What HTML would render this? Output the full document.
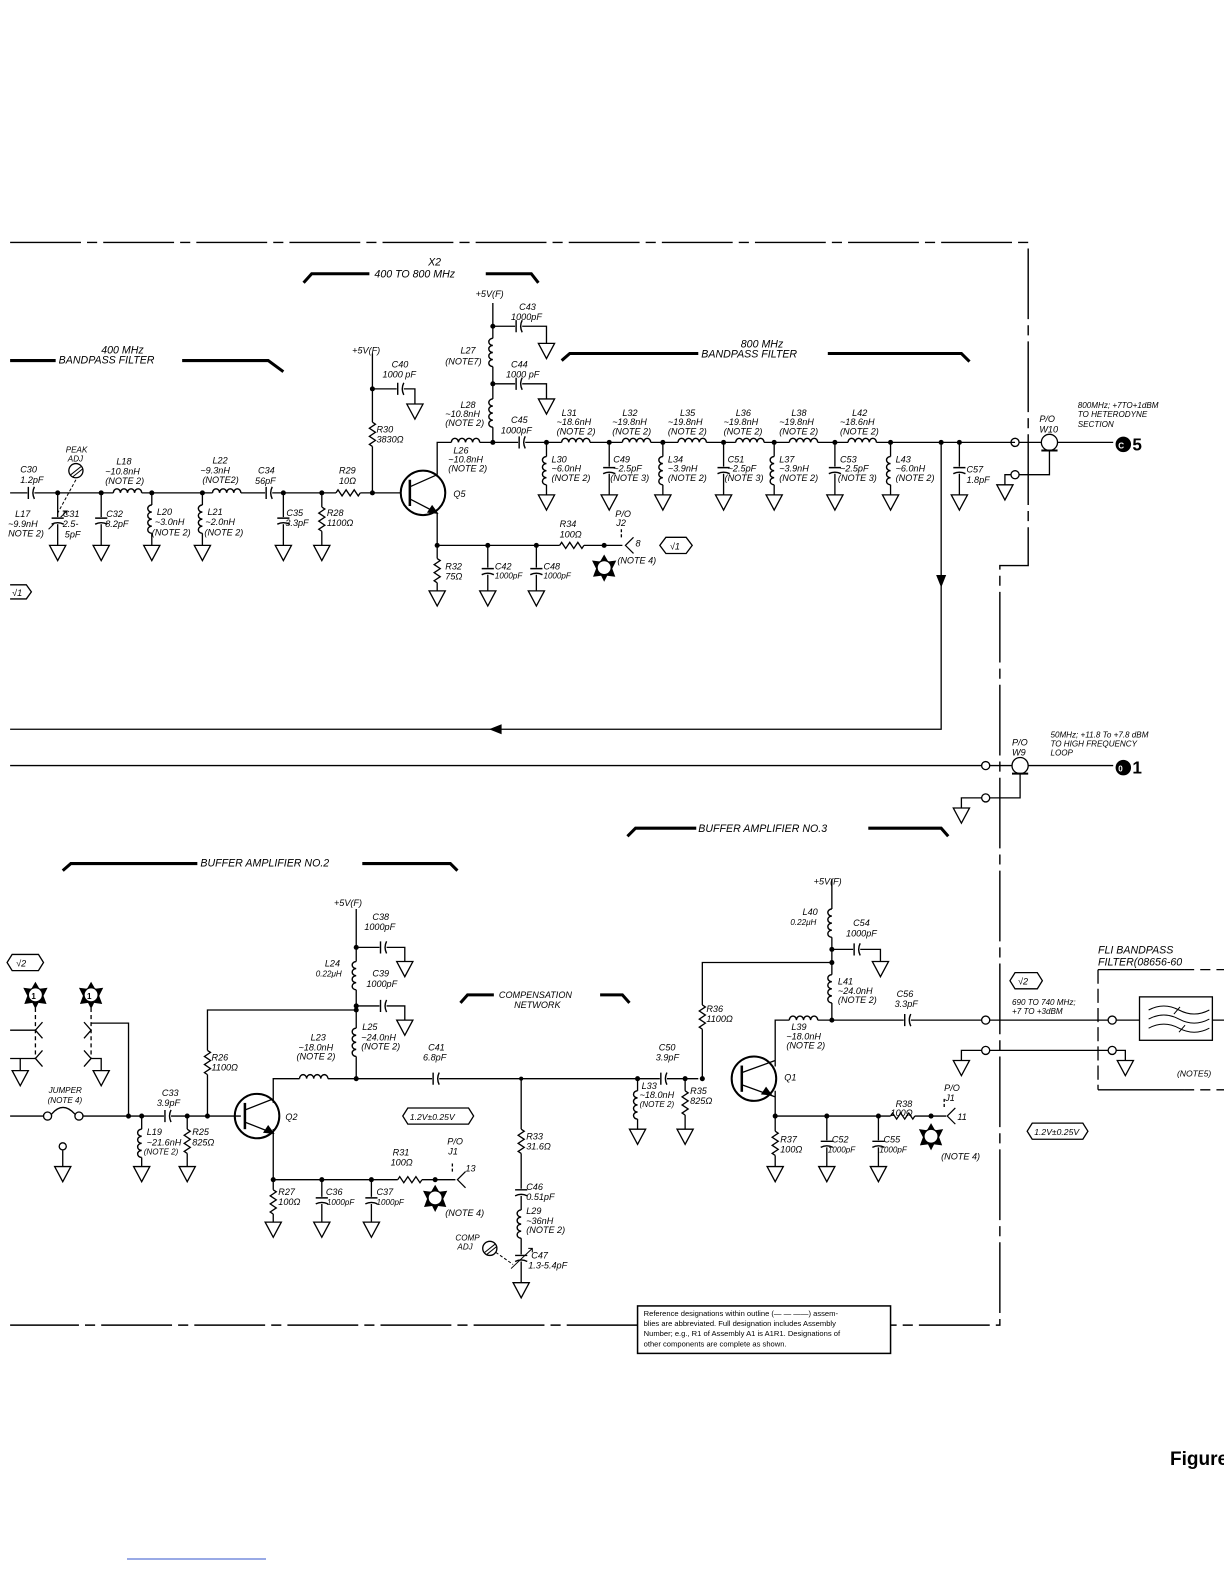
<!DOCTYPE html>
<html><head><meta charset="utf-8"><style>
html,body{margin:0;padding:0;background:#fff}
svg{display:block}
text{font-family:"Liberation Sans",sans-serif;font-style:italic;font-size:9px;fill:#000}
.h{font-size:10.5px}
.n{font-style:normal;font-size:8px;font-weight:bold}
</style></head><body>
<svg width="1224" height="1584" viewBox="0 0 1224 1584" xmlns="http://www.w3.org/2000/svg">
<defs>
<g id="gnd" fill="none" stroke="#000" stroke-width="1.3"><path d="M-8,0 L8,0 L0,15 Z"/></g>
<g id="lv"><rect x="-5" y="0" width="10" height="28" fill="#fff" stroke="none"/><path d="M0,0 a4,3.5 0 0 0 0,7 a4,3.5 0 0 0 0,7 a4,3.5 0 0 0 0,7 a4,3.5 0 0 0 0,7" fill="none" stroke="#000" stroke-width="1.4"/></g>
<g id="lh"><rect x="0" y="-5" width="28" height="10" fill="#fff" stroke="none"/><path d="M0,0 a3.5,4 0 0 1 7,0 a3.5,4 0 0 1 7,0 a3.5,4 0 0 1 7,0 a3.5,4 0 0 1 7,0" fill="none" stroke="#000" stroke-width="1.4"/></g>
<g id="rv"><rect x="-5" y="0" width="10" height="24" fill="#fff" stroke="none"/><path d="M0,0 l3,2 l-6,4 l6,4 l-6,4 l6,4 l-6,4 l3,2" fill="none" stroke="#000" stroke-width="1.3"/></g>
<g id="rh"><rect x="0" y="-5" width="24" height="10" fill="#fff" stroke="none"/><path d="M0,0 l2,-3 l4,6 l4,-6 l4,6 l4,-6 l4,6 l2,-3" fill="none" stroke="#000" stroke-width="1.3"/></g>
<g id="ch"><rect x="-3" y="-7" width="7" height="14" fill="#fff" stroke="none"/><path d="M-2,-6 L-2,6 M4,-6 Q1,0 4,6" fill="none" stroke="#000" stroke-width="1.4"/></g>
<g id="cv"><rect x="-7" y="-3" width="14" height="7" fill="#fff" stroke="none"/><path d="M-6,-2 L6,-2 M-6,4 Q0,1 6,4" fill="none" stroke="#000" stroke-width="1.4"/></g>
<g id="star"><polygon points="0,-13 4,-6 12,-7 8,1 11,9 3,8 0,14 -3,8 -11,9 -8,1 -12,-7 -4,-6" fill="#000" stroke="none"/><circle r="7" fill="#fff" stroke="#000"/></g>
<g id="jk" fill="none" stroke="#000" stroke-width="1.2"><path d="M8,-8 L0,0 L8,8"/></g>
</defs>
<g transform="scale(1.012,1.01)" stroke="#000" stroke-width="1.3" fill="none">
<path d="M10,240 L1016,240 L1016,560 L988,560 L988,1312 L880,1312 M630,1312 L10,1312" stroke-dasharray="70,6,10,6" stroke-width="1.4"/>
<path d="M10,357 L55,357 M180,357 L265,357 L280,368" stroke-width="3"/>
<path d="M300,280 L308,271 L365,271 M480,271 L525,271 L532,280" stroke-width="3"/>
<path d="M555,357 L563,350 L690,350 M818,350 L950,350 L958,358" stroke-width="3"/>
<path d="M620,828 L628,820 L688,820 M858,820 L930,820 L937,828" stroke-width="3"/>
<path d="M62,862 L70,855 L195,855 M358,855 L445,855 L452,862" stroke-width="3"/>
<path d="M455,993 L462,985 L488,985 M593,985 L615,985 L622,993" stroke-width="3"/>

<path d="M10,488 L396,488"/>
<path d="M57,488 V540 M100,488 V540 M150,488 V540 M200,488 V540 M280,488 V540 M318,488 V540"/>
<path d="M75,475 L57,508" stroke-dasharray="3,2" stroke-width="1"/>
<circle cx="75" cy="466" r="7"/><path d="M70,470 L80,462 M72,472 L82,464" stroke-width="1"/>
<path d="M48,524 L66,506 M62,506 L66,506 L66,510" stroke-width="1"/>
<path d="M368,350 V488 M368,385 H410 V400 M432,470 V438 H1003 M432,508 V540 H615 M487,300 V438 M487,323 H540 V340 M487,380 H540 V395"/>
<path d="M540,438 V490 M602,438 V490 M655,438 V490 M715,438 V490 M765,438 V490 M825,438 V490 M880,438 V490 M948,438 V490"/>
<path d="M930,438 V722 H10"/>
<path d="M930,580 l-4,-10 h8 z M485,722 l10,-4 v8 z" fill="#000"/>
<path d="M432,540 V585 M482,540 V585 M530,540 V585"/>
<circle cx="418" cy="488" r="22" stroke-width="2"/>
<path d="M405,475 V501" stroke-width="2.5"/><path d="M405,482 L432,470 M405,494 L432,508"/>
<path d="M432,508 l-9,-1 l4,-6 z" fill="#000"/>
<g stroke="none" fill="#000">
<circle cx="57" cy="488" r="2.5"/><circle cx="100" cy="488" r="2.5"/><circle cx="150" cy="488" r="2.5"/><circle cx="200" cy="488" r="2.5"/><circle cx="280" cy="488" r="2.5"/><circle cx="318" cy="488" r="2.5"/><circle cx="368" cy="488" r="2.5"/><circle cx="368" cy="385" r="2.5"/>
<circle cx="487" cy="323" r="2.5"/><circle cx="487" cy="380" r="2.5"/><circle cx="487" cy="438" r="2.5"/>
<circle cx="540" cy="438" r="2.5"/><circle cx="602" cy="438" r="2.5"/><circle cx="655" cy="438" r="2.5"/><circle cx="715" cy="438" r="2.5"/><circle cx="765" cy="438" r="2.5"/><circle cx="825" cy="438" r="2.5"/><circle cx="880" cy="438" r="2.5"/><circle cx="930" cy="438" r="2.5"/><circle cx="948" cy="438" r="2.5"/>
<circle cx="432" cy="540" r="2.5"/><circle cx="482" cy="540" r="2.5"/><circle cx="530" cy="540" r="2.5"/><circle cx="597" cy="540" r="2.5"/>
</g>
<use href="#ch" x="30" y="488"/><use href="#cv" x="57" y="515"/><use href="#cv" x="100" y="515"/>
<use href="#lh" x="112" y="488"/><use href="#lv" x="150" y="500"/><use href="#lv" x="200" y="500"/>
<use href="#lh" x="210" y="488"/><use href="#ch" x="265" y="488"/><use href="#cv" x="280" y="515"/>
<use href="#rv" x="318" y="502"/><use href="#rh" x="332" y="488"/>
<use href="#ch" x="395" y="385"/><use href="#rv" x="368" y="418"/>
<use href="#lh" x="446" y="438"/><use href="#ch" x="512" y="323"/><use href="#lv" x="487" y="335"/>
<use href="#ch" x="512" y="380"/><use href="#lv" x="487" y="395"/><use href="#ch" x="515" y="438"/>
<use href="#lv" x="540" y="452"/><use href="#cv" x="602" y="465"/><use href="#lv" x="655" y="452"/><use href="#cv" x="715" y="465"/><use href="#lv" x="765" y="452"/><use href="#cv" x="825" y="465"/><use href="#lv" x="880" y="452"/><use href="#cv" x="948" y="465"/>
<use href="#lh" x="555" y="438"/><use href="#lh" x="615" y="438"/><use href="#lh" x="670" y="438"/><use href="#lh" x="727" y="438"/><use href="#lh" x="780" y="438"/><use href="#lh" x="838" y="438"/>
<use href="#rv" x="432" y="553"/><use href="#cv" x="482" y="565"/><use href="#cv" x="530" y="565"/><use href="#rh" x="553" y="540"/>
<use href="#star" x="597" y="562"/><use href="#jk" x="618" y="540"/><path d="M614,524 V534" stroke-dasharray="3,2"/>
<g>
<use href="#gnd" x="57" y="540"/><use href="#gnd" x="100" y="540"/><use href="#gnd" x="150" y="540"/><use href="#gnd" x="200" y="540"/><use href="#gnd" x="280" y="540"/><use href="#gnd" x="318" y="540"/>
<use href="#gnd" x="410" y="400"/><use href="#gnd" x="540" y="340"/><use href="#gnd" x="540" y="395"/>
<use href="#gnd" x="540" y="490"/><use href="#gnd" x="602" y="490"/><use href="#gnd" x="655" y="490"/><use href="#gnd" x="715" y="490"/><use href="#gnd" x="765" y="490"/><use href="#gnd" x="825" y="490"/><use href="#gnd" x="880" y="490"/><use href="#gnd" x="948" y="490"/><use href="#gnd" x="993" y="480"/>
<use href="#gnd" x="432" y="585"/><use href="#gnd" x="482" y="585"/><use href="#gnd" x="530" y="585"/>
</g>
<circle cx="1003" cy="438" r="4"/><path d="M1007,438 H1029 M1045,438 H1100"/>
<circle cx="1037" cy="438" r="8"/><path d="M1029,446 H1045" stroke-width="2"/>
<circle cx="1003" cy="470" r="4"/><path d="M1007,470 H1037 V446 M999,470 H993 V480"/>
<circle cx="1110" cy="440" r="7" fill="#000"/>
<path d="M10,758 H970"/><circle cx="974" cy="758" r="4"/><path d="M978,758 H1000 M1016,758 H1100"/>
<circle cx="1008" cy="758" r="8"/><path d="M1000,766 H1016" stroke-width="2"/>
<circle cx="974" cy="790" r="4"/><path d="M978,790 H1008 V766 M970,790 H950 V800"/><use href="#gnd" x="950" y="800"/>
<circle cx="1110" cy="760" r="7" fill="#000"/>

<path d="M10,1105 H43 M82,1105 H238"/>
<circle cx="47" cy="1105" r="4"/><circle cx="78" cy="1105" r="4"/><path d="M51,1103 Q62,1090 74,1103"/>
<circle cx="62" cy="1135" r="3.5"/><path d="M62,1139 V1155"/><use href="#gnd" x="62" y="1155"/>
<path d="M127,1105 V1013 H90"/>
<use href="#star" x="35" y="985"/><use href="#star" x="90" y="985"/>
<path d="M35,998 V1048 M90,998 V1048" stroke-dasharray="4,3"/>
<path d="M10,1020 H35 M42,1012 L35,1020 L42,1028 M10,1048 H35 M42,1040 L35,1048 L42,1056 M35,1048 H20 V1060"/>
<path d="M83,1012 L90,1020 L83,1028 M83,1040 L90,1048 L83,1056 M90,1048 H100 V1060"/>
<use href="#gnd" x="20" y="1060"/><use href="#gnd" x="100" y="1060"/>
<path d="M140,1105 V1155 M185,1105 V1155 M205,1105 V1000 H352 M352,900 V1068 M270,1092 V1068 H690 M270,1118 V1168 H450 M352,938 H400 V952 M352,996 H400 V1010"/>
<path d="M270,1168 V1210 M318,1168 V1210 M367,1168 V1210 M515,1068 V1270"/>
<circle cx="254" cy="1105" r="22" stroke-width="2"/>
<path d="M242,1092 V1118" stroke-width="2.5"/><path d="M242,1099 L270,1088 M242,1111 L270,1122"/>
<path d="M270,1122 l-9,-1 l4,-6 z" fill="#000"/>
<g stroke="none" fill="#000">
<circle cx="127" cy="1105" r="2.5"/><circle cx="140" cy="1105" r="2.5"/><circle cx="185" cy="1105" r="2.5"/><circle cx="205" cy="1105" r="2.5"/>
<circle cx="352" cy="938" r="2.5"/><circle cx="352" cy="996" r="2.5"/><circle cx="352" cy="1000" r="2.5"/><circle cx="352" cy="1068" r="2.5"/><circle cx="515" cy="1068" r="2"/>
<circle cx="270" cy="1168" r="2.5"/><circle cx="318" cy="1168" r="2.5"/><circle cx="367" cy="1168" r="2.5"/><circle cx="430" cy="1168" r="2.5"/>
<circle cx="630" cy="1068" r="2.5"/><circle cx="677" cy="1068" r="2.5"/><circle cx="694" cy="1068" r="2.5"/>
<circle cx="822" cy="940" r="2.5"/><circle cx="822" cy="953" r="2.5"/><circle cx="822" cy="1010" r="2.5"/>
<circle cx="766" cy="1105" r="2.5"/><circle cx="817" cy="1105" r="2.5"/><circle cx="868" cy="1105" r="2.5"/><circle cx="920" cy="1105" r="2.5"/>
</g>
<use href="#ch" x="165" y="1105"/><use href="#lv" x="140" y="1118"/><use href="#rv" x="185" y="1118"/><use href="#rv" x="205" y="1040"/>
<use href="#ch" x="378" y="938"/><use href="#lv" x="352" y="952"/><use href="#ch" x="378" y="996"/><use href="#lv" x="352" y="1018"/>
<use href="#lh" x="296" y="1068"/><use href="#ch" x="430" y="1068"/>
<use href="#rv" x="270" y="1178"/><use href="#cv" x="318" y="1188"/><use href="#cv" x="367" y="1188"/><use href="#rh" x="393" y="1168"/>
<use href="#star" x="430" y="1186"/><use href="#jk" x="452" y="1168"/><path d="M447,1152 V1162" stroke-dasharray="3,2"/>
<use href="#rv" x="515" y="1118"/><use href="#cv" x="515" y="1180"/><use href="#lv" x="515" y="1198"/><use href="#cv" x="515" y="1245"/>
<path d="M505,1256 L526,1236 M522,1236 L526,1236 L526,1240" stroke-width="1"/>
<circle cx="484" cy="1236" r="7"/><path d="M479,1240 L489,1232 M481,1242 L491,1234" stroke-width="1"/><path d="M490,1240 L507,1252" stroke-dasharray="3,2" stroke-width="1"/>
<g>
<use href="#gnd" x="140" y="1155"/><use href="#gnd" x="185" y="1155"/><use href="#gnd" x="400" y="952"/><use href="#gnd" x="400" y="1010"/>
<use href="#gnd" x="270" y="1210"/><use href="#gnd" x="318" y="1210"/><use href="#gnd" x="367" y="1210"/><use href="#gnd" x="515" y="1270"/>
</g>
<path d="M630,1068 V1118 M677,1068 V1118 M694,1068 V953 H822 M822,870 V1010 M766,1056 V1010 H970 M822,940 H870 V952 M766,1080 V1155 M766,1105 H935 M817,1105 V1155 M868,1105 V1155"/>
<circle cx="745" cy="1068" r="22" stroke-width="2"/>
<path d="M733,1055 V1081" stroke-width="2.5"/><path d="M733,1062 L766,1050 M733,1074 L766,1086"/>
<path d="M762,1084 l-9,-1 l4,-6 z" fill="#000"/>
<use href="#ch" x="655" y="1068"/><use href="#lv" x="630" y="1080"/><use href="#rv" x="677" y="1080"/><use href="#rv" x="694" y="995"/>
<use href="#lv" x="822" y="900"/><use href="#ch" x="846" y="940"/><use href="#lv" x="822" y="965"/>
<use href="#lh" x="780" y="1010"/><use href="#ch" x="896" y="1010"/>
<use href="#rv" x="766" y="1120"/><use href="#cv" x="817" y="1132"/><use href="#cv" x="868" y="1132"/><use href="#rh" x="880" y="1105"/>
<use href="#star" x="920" y="1125"/><use href="#jk" x="936" y="1105"/><path d="M933,1088 V1098" stroke-dasharray="3,2"/>
<g>
<use href="#gnd" x="630" y="1118"/><use href="#gnd" x="677" y="1118"/><use href="#gnd" x="870" y="952"/>
<use href="#gnd" x="766" y="1155"/><use href="#gnd" x="817" y="1155"/><use href="#gnd" x="868" y="1155"/>
</g>
<circle cx="974" cy="1010" r="4"/><path d="M978,1010 H1095"/>
<circle cx="974" cy="1040" r="4"/><path d="M978,1040 H1095 M970,1040 H950 V1050"/><use href="#gnd" x="950" y="1050"/>
<path d="M1085,960 V1079" stroke-dasharray="14,5"/>
<path d="M1085,960 H1170 M1085,1079 H1170" /><path d="M1170,960 H1224 M1170,1079 H1224" stroke-dasharray="10,6"/>
<circle cx="1099" cy="1010" r="4"/><path d="M1103,1010 H1126 M1198,1010 H1224"/>
<circle cx="1099" cy="1040" r="4"/><path d="M1103,1040 H1112 V1050"/><use href="#gnd" x="1112" y="1050"/>
<rect x="1126" y="987" width="72" height="43"/>
<path d="M1135,1000 q15,-8 30,0 t30,0 M1135,1009 q15,-8 30,0 t30,0 M1135,1018 q15,-8 30,0 t30,0 M1160,1004 l6,-7 M1165,1022 l6,-7" stroke-width="1"/>
<path d="M10,579 H26 L31,586 L26,593 H10"/>
<path d="M658,532 H678 L684,540 L678,548 H658 L652,540 Z"/>
<path d="M12,945 H38 L43,953 L38,961 H12 L7,953 Z"/>
<path d="M403,1097 H463 L468,1105 L463,1113 H403 L398,1105 Z"/>
<path d="M1003,963 H1025 L1030,971 L1025,979 H1003 L998,971 Z"/>
<path d="M1020,1112 H1070 L1075,1120 L1070,1128 H1020 L1015,1120 Z"/>
<rect x="630" y="1293" width="250" height="47" fill="#fff" stroke-width="1.5"/>
</g>
<g transform="scale(1.012,1.01)">
<text x="100" y="350" class="h">400 MHz</text><text x="58" y="360" class="h">BANDPASS  FILTER</text>
<text x="423" y="263" class="h">X2</text><text x="370" y="275" class="h">400  TO  800  MHz</text>
<text x="732" y="344" class="h">800 MHz</text><text x="693" y="354" class="h">BANDPASS  FILTER</text>
<text x="348" y="350">+5V(F)</text><text x="470" y="294">+5V(F)</text>
<text x="513" y="307">C43</text><text x="505" y="317">1000pF</text>
<text x="455" y="350">L27</text><text x="440" y="361">(NOTE7)</text>
<text x="505" y="364">C44</text><text x="500" y="374">1000 pF</text>
<text x="387" y="364">C40</text><text x="378" y="374">1000 pF</text>
<text x="455" y="404">L28</text><text x="440" y="413">~10.8nH</text><text x="440" y="422">(NOTE 2)</text>
<text x="505" y="419">C45</text><text x="495" y="429">1000pF</text>
<text x="372" y="428">R30</text><text x="372" y="438">3830Ω</text>
<text x="448" y="449">L26</text><text x="443" y="458">~10.8nH</text><text x="443" y="467">(NOTE 2)</text>
<text x="448" y="492">Q5</text>
<text x="65" y="448" style="font-size:8px">PEAK</text><text x="67" y="457" style="font-size:8px">ADJ</text>
<text x="20" y="468">C30</text><text x="20" y="478">1.2pF</text>
<text x="115" y="460">L18</text><text x="104" y="470">~10.8nH</text><text x="104" y="479">(NOTE 2)</text>
<text x="210" y="459">L22</text><text x="198" y="469">~9.3nH</text><text x="200" y="478">(NOTE2)</text>
<text x="255" y="469">C34</text><text x="252" y="479">56pF</text>
<text x="335" y="469">R29</text><text x="335" y="479">10Ω</text>
<text x="15" y="512">L17</text><text x="8" y="522">~9.9nH</text><text x="8" y="531">NOTE 2)</text>
<text x="62" y="512">C31</text><text x="62" y="522">2.5-</text><text x="64" y="532">5pF</text>
<text x="105" y="512">C32</text><text x="104" y="522">8.2pF</text>
<text x="155" y="510">L20</text><text x="153" y="520">~3.0nH</text><text x="150" y="530">(NOTE 2)</text>
<text x="205" y="510">L21</text><text x="203" y="520">~2.0nH</text><text x="202" y="530">(NOTE 2)</text>
<text x="283" y="511">C35</text><text x="282" y="521">3.3pF</text>
<text x="323" y="511">R28</text><text x="323" y="521">1100Ω</text>
<text x="555" y="412">L31</text><text x="550" y="421">~18.6nH</text><text x="550" y="430">(NOTE 2)</text>
<text x="615" y="412">L32</text><text x="605" y="421">~19.8nH</text><text x="605" y="430">(NOTE 2)</text>
<text x="672" y="412">L35</text><text x="660" y="421">~19.8nH</text><text x="660" y="430">(NOTE 2)</text>
<text x="727" y="412">L36</text><text x="715" y="421">~19.8nH</text><text x="715" y="430">(NOTE 2)</text>
<text x="782" y="412">L38</text><text x="770" y="421">~19.8nH</text><text x="770" y="430">(NOTE 2)</text>
<text x="842" y="412">L42</text><text x="830" y="421">~18.6nH</text><text x="830" y="430">(NOTE 2)</text>
<text x="545" y="458">L30</text><text x="545" y="467">~6.0nH</text><text x="545" y="476">(NOTE 2)</text>
<text x="606" y="458">C49</text><text x="606" y="467">~2.5pF</text><text x="603" y="476">(NOTE 3)</text>
<text x="660" y="458">L34</text><text x="660" y="467">~3.9nH</text><text x="660" y="476">(NOTE 2)</text>
<text x="719" y="458">C51</text><text x="719" y="467">~2.5pF</text><text x="716" y="476">(NOTE 3)</text>
<text x="770" y="458">L37</text><text x="770" y="467">~3.9nH</text><text x="770" y="476">(NOTE 2)</text>
<text x="830" y="458">C53</text><text x="830" y="467">~2.5pF</text><text x="828" y="476">(NOTE 3)</text>
<text x="885" y="458">L43</text><text x="885" y="467">~6.0nH</text><text x="885" y="476">(NOTE 2)</text>
<text x="955" y="468">C57</text><text x="955" y="478">1.8pF</text>
<text x="1027" y="418">P/O</text><text x="1027" y="428">W10</text>
<text x="1065" y="404" style="font-size:8px">800MHz; +7TO+1dBM</text><text x="1065" y="413" style="font-size:8px">TO HETERODYNE</text><text x="1065" y="423" style="font-size:8px">SECTION</text>
<text x="1105" y="444" style="font-style:normal;font-size:8px;font-weight:bold;fill:#fff">C</text>
<text x="1119" y="446" style="font-style:normal;font-size:17px;font-weight:bold">5</text>
<text x="553" y="522">R34</text><text x="553" y="532">100Ω</text>
<text x="608" y="512">P/O</text><text x="609" y="521">J2</text><text x="628" y="541">8</text>
<text x="662" y="544">√1</text>
<text x="440" y="564">R32</text><text x="440" y="574">75Ω</text>
<text x="489" y="564">C42</text><text x="489" y="573" style="font-size:8px">1000pF</text>
<text x="537" y="564">C48</text><text x="537" y="573" style="font-size:8px">1000pF</text>
<text x="610" y="558">(NOTE 4)</text>
<text x="12" y="590">√1</text>
<text x="1038" y="730" style="font-size:8px">50MHz; +11.8 To +7.8 dBM</text><text x="1038" y="739" style="font-size:8px">TO HIGH FREQUENCY</text><text x="1038" y="748" style="font-size:8px">LOOP</text>
<text x="1000" y="738">P/O</text><text x="1000" y="748">W9</text>
<text x="1105" y="764" style="font-style:normal;font-size:8px;font-weight:bold;fill:#fff">0</text>
<text x="1119" y="766" style="font-style:normal;font-size:17px;font-weight:bold">1</text>
<text x="690" y="824" class="h">BUFFER AMPLIFIER NO.3</text>
<text x="198" y="858" class="h">BUFFER  AMPLIFIER NO.2</text>
<text x="493" y="988">COMPENSATION</text><text x="508" y="998">NETWORK</text>
<text x="330" y="897">+5V(F)</text>
<text x="368" y="911">C38</text><text x="360" y="921">1000pF</text>
<text x="321" y="957">L24</text><text x="312" y="967" style="font-size:8px">0.22μH</text>
<text x="368" y="967">C39</text><text x="362" y="977">1000pF</text>
<text x="358" y="1020">L25</text><text x="357" y="1030">~24.0nH</text><text x="357" y="1039">(NOTE 2)</text>
<text x="307" y="1030">L23</text><text x="295" y="1040">~18.0nH</text><text x="293" y="1049">(NOTE 2)</text>
<text x="423" y="1040">C41</text><text x="418" y="1050">6.8pF</text>
<text x="209" y="1050">R26</text><text x="209" y="1060">1100Ω</text>
<text x="48" y="1082" style="font-size:8px">JUMPER</text><text x="47" y="1092" style="font-size:8px">(NOTE 4)</text>
<text x="160" y="1085">C33</text><text x="155" y="1095">3.9pF</text>
<text x="145" y="1124">L19</text><text x="145" y="1134">~21.6nH</text><text x="142" y="1143" style="font-size:8px">(NOTE 2)</text>
<text x="190" y="1124">R25</text><text x="190" y="1134">825Ω</text>
<text x="282" y="1109">Q2</text>
<text x="405" y="1109" style="font-size:8.5px">1.2V±0.25V</text>
<text x="388" y="1144">R31</text><text x="386" y="1154">100Ω</text>
<text x="442" y="1133">P/O</text><text x="443" y="1143">J1</text><text x="460" y="1160">13</text>
<text x="275" y="1183">R27</text><text x="275" y="1193">100Ω</text>
<text x="322" y="1183">C36</text><text x="323" y="1193" style="font-size:8px">1000pF</text>
<text x="372" y="1183">C37</text><text x="372" y="1193" style="font-size:8px">1000pF</text>
<text x="440" y="1204">(NOTE 4)</text>
<text x="520" y="1128">R33</text><text x="520" y="1138">31.6Ω</text>
<text x="520" y="1178">C46</text><text x="520" y="1188">0.51pF</text>
<text x="520" y="1202">L29</text><text x="520" y="1212">~36nH</text><text x="520" y="1221">(NOTE 2)</text>
<text x="450" y="1228" style="font-size:8px">COMP</text><text x="452" y="1237" style="font-size:8px">ADJ</text>
<text x="525" y="1246">C47</text><text x="522" y="1256">1.3-5.4pF</text>
<text x="804" y="876">+5V(F)</text>
<text x="793" y="906">L40</text><text x="781" y="916" style="font-size:8px">0.22μH</text>
<text x="843" y="917">C54</text><text x="836" y="927">1000pF</text>
<text x="828" y="975">L41</text><text x="828" y="984">~24.0nH</text><text x="828" y="993">(NOTE 2)</text>
<text x="886" y="987">C56</text><text x="884" y="997">3.3pF</text>
<text x="782" y="1020">L39</text><text x="777" y="1029">~18.0nH</text><text x="777" y="1038">(NOTE 2)</text>
<text x="698" y="1002">R36</text><text x="698" y="1012">1100Ω</text>
<text x="651" y="1040">C50</text><text x="648" y="1050">3.9pF</text>
<text x="634" y="1078">L33</text><text x="632" y="1087">~18.0nH</text><text x="632" y="1096" style="font-size:8px">(NOTE 2)</text>
<text x="682" y="1083">R35</text><text x="682" y="1093">825Ω</text>
<text x="775" y="1070">Q1</text>
<text x="885" y="1096">R38</text><text x="880" y="1105">100Ω</text>
<text x="933" y="1080">P/O</text><text x="934" y="1090">J1</text><text x="946" y="1109">11</text>
<text x="771" y="1131">R37</text><text x="771" y="1141">100Ω</text>
<text x="822" y="1131">C52</text><text x="818" y="1141" style="font-size:8px">1000pF</text>
<text x="873" y="1131">C55</text><text x="869" y="1141" style="font-size:8px">1000pF</text>
<text x="930" y="1148">(NOTE 4)</text>
<text x="1006" y="975">√2</text><text x="16" y="957">√2</text>
<text x="1000" y="995" style="font-size:8px">690 TO 740 MHz;</text><text x="1000" y="1004" style="font-size:8px">+7 TO +3dBM</text>
<text x="1022" y="1124" style="font-size:8.5px">1.2V±0.25V</text>
<text x="1085" y="944" class="h">FLI BANDPASS</text><text x="1085" y="956" class="h">FILTER(08656-60</text>
<text x="1163" y="1066" style="font-size:8.5px">(NOTE5)</text>
<text x="31" y="989" class="n">1</text><text x="86" y="989" class="n">1</text>
<text x="636" y="1303" style="font-style:normal;font-size:7.5px">Reference designations within outline (— — ——) assem-</text>
<text x="636" y="1313" style="font-style:normal;font-size:7.5px">blies are abbreviated. Full designation includes Assembly</text>
<text x="636" y="1323" style="font-style:normal;font-size:7.5px">Number; e.g., R1 of Assembly A1 is A1R1. Designations of</text>
<text x="636" y="1333" style="font-style:normal;font-size:7.5px">other components are complete as shown.</text>
</g>
<text x="1170" y="1465" style="font-style:normal;font-weight:bold;font-size:19px;font-family:'Liberation Sans Narrow','Liberation Sans',sans-serif">Figure</text>
<line x1="127" y1="1559" x2="266" y2="1559" stroke="#3355cc" stroke-width="1"/>
</svg>
</body></html>
